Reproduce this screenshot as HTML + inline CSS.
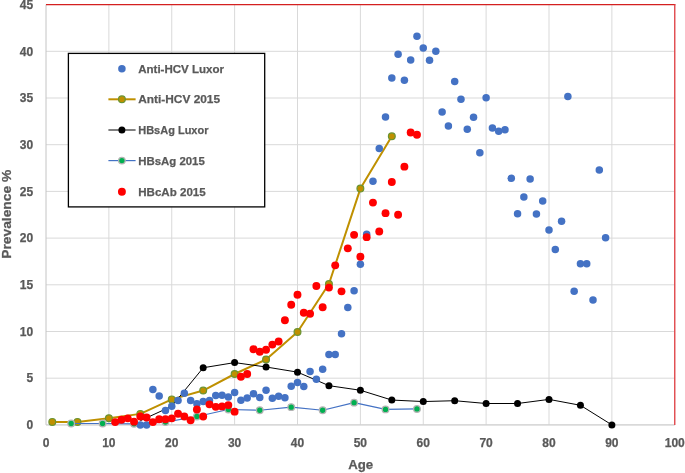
<!DOCTYPE html>
<html><head><meta charset="utf-8"><title>Prevalence by Age</title>
<style>html,body{margin:0;padding:0;background:#fff;}svg{display:block;}text{font-family:"Liberation Sans",sans-serif;font-weight:bold;fill:#595959;}.tk{stroke:#595959;stroke-width:0.25px;}</style></head><body>
<svg width="685" height="473" viewBox="0 0 685 473">
<rect width="685" height="473" fill="#fff"/>
<line x1="46.00" y1="424.90" x2="674.75" y2="424.90" stroke="#d9d9d9" stroke-width="1"/>
<line x1="46.00" y1="378.20" x2="674.75" y2="378.20" stroke="#d9d9d9" stroke-width="1"/>
<line x1="46.00" y1="331.50" x2="674.75" y2="331.50" stroke="#d9d9d9" stroke-width="1"/>
<line x1="46.00" y1="284.80" x2="674.75" y2="284.80" stroke="#d9d9d9" stroke-width="1"/>
<line x1="46.00" y1="238.10" x2="674.75" y2="238.10" stroke="#d9d9d9" stroke-width="1"/>
<line x1="46.00" y1="191.40" x2="674.75" y2="191.40" stroke="#d9d9d9" stroke-width="1"/>
<line x1="46.00" y1="144.70" x2="674.75" y2="144.70" stroke="#d9d9d9" stroke-width="1"/>
<line x1="46.00" y1="98.00" x2="674.75" y2="98.00" stroke="#d9d9d9" stroke-width="1"/>
<line x1="46.00" y1="51.30" x2="674.75" y2="51.30" stroke="#d9d9d9" stroke-width="1"/>
<line x1="108.88" y1="4.60" x2="108.88" y2="424.90" stroke="#d9d9d9" stroke-width="1"/>
<line x1="171.75" y1="4.60" x2="171.75" y2="424.90" stroke="#d9d9d9" stroke-width="1"/>
<line x1="234.62" y1="4.60" x2="234.62" y2="424.90" stroke="#d9d9d9" stroke-width="1"/>
<line x1="297.50" y1="4.60" x2="297.50" y2="424.90" stroke="#d9d9d9" stroke-width="1"/>
<line x1="360.38" y1="4.60" x2="360.38" y2="424.90" stroke="#d9d9d9" stroke-width="1"/>
<line x1="423.25" y1="4.60" x2="423.25" y2="424.90" stroke="#d9d9d9" stroke-width="1"/>
<line x1="486.12" y1="4.60" x2="486.12" y2="424.90" stroke="#d9d9d9" stroke-width="1"/>
<line x1="549.00" y1="4.60" x2="549.00" y2="424.90" stroke="#d9d9d9" stroke-width="1"/>
<line x1="611.88" y1="4.60" x2="611.88" y2="424.90" stroke="#d9d9d9" stroke-width="1"/>
<line x1="46.00" y1="4.60" x2="46.00" y2="424.90" stroke="#c4c4c4" stroke-width="1"/>
<line x1="46.00" y1="424.90" x2="674.75" y2="424.90" stroke="#cfcfcf" stroke-width="1"/>
<line x1="46.00" y1="4.60" x2="675.45" y2="4.60" stroke="#d42020" stroke-width="1.3"/>
<line x1="674.75" y1="4.60" x2="674.75" y2="424.90" stroke="#e0484c" stroke-width="1.4"/>
<text x="33.2" y="429.10" font-size="12" text-anchor="end" class="tk">0</text>
<text x="33.2" y="382.40" font-size="12" text-anchor="end" class="tk">5</text>
<text x="33.2" y="335.70" font-size="12" text-anchor="end" class="tk">10</text>
<text x="33.2" y="289.00" font-size="12" text-anchor="end" class="tk">15</text>
<text x="33.2" y="242.30" font-size="12" text-anchor="end" class="tk">20</text>
<text x="33.2" y="195.60" font-size="12" text-anchor="end" class="tk">25</text>
<text x="33.2" y="148.90" font-size="12" text-anchor="end" class="tk">30</text>
<text x="33.2" y="102.20" font-size="12" text-anchor="end" class="tk">35</text>
<text x="33.2" y="55.50" font-size="12" text-anchor="end" class="tk">40</text>
<text x="33.2" y="8.80" font-size="12" text-anchor="end" class="tk">45</text>
<text x="46.00" y="447.1" font-size="12" text-anchor="middle" class="tk">0</text>
<text x="108.88" y="447.1" font-size="12" text-anchor="middle" class="tk">10</text>
<text x="171.75" y="447.1" font-size="12" text-anchor="middle" class="tk">20</text>
<text x="234.62" y="447.1" font-size="12" text-anchor="middle" class="tk">30</text>
<text x="297.50" y="447.1" font-size="12" text-anchor="middle" class="tk">40</text>
<text x="360.38" y="447.1" font-size="12" text-anchor="middle" class="tk">50</text>
<text x="423.25" y="447.1" font-size="12" text-anchor="middle" class="tk">60</text>
<text x="486.12" y="447.1" font-size="12" text-anchor="middle" class="tk">70</text>
<text x="549.00" y="447.1" font-size="12" text-anchor="middle" class="tk">80</text>
<text x="611.88" y="447.1" font-size="12" text-anchor="middle" class="tk">90</text>
<text x="674.75" y="447.1" font-size="12" text-anchor="middle" class="tk">100</text>
<text x="348.2" y="469.1" font-size="13.2" textLength="25" lengthAdjust="spacingAndGlyphs" class="tk">Age</text>
<text transform="translate(10.9,258.8) rotate(-90)" font-size="13.2" textLength="89" lengthAdjust="spacingAndGlyphs" class="tk">Prevalence %</text>
<polyline points="52.29,421.91 77.44,421.91 108.88,418.18 140.31,413.88 171.75,399.40 203.19,390.53 234.62,374.00 266.06,359.52 297.50,331.97 328.94,284.05 360.38,188.60 391.81,136.29" fill="none" stroke="#bf9000" stroke-width="2" stroke-linejoin="round"/>
<circle cx="52.29" cy="421.91" r="3.4" fill="#bf9000" stroke="#6a9432" stroke-width="1.2"/>
<circle cx="77.44" cy="421.91" r="3.4" fill="#bf9000" stroke="#6a9432" stroke-width="1.2"/>
<circle cx="108.88" cy="418.18" r="3.4" fill="#bf9000" stroke="#6a9432" stroke-width="1.2"/>
<circle cx="140.31" cy="413.88" r="3.4" fill="#bf9000" stroke="#6a9432" stroke-width="1.2"/>
<circle cx="171.75" cy="399.40" r="3.4" fill="#bf9000" stroke="#6a9432" stroke-width="1.2"/>
<circle cx="203.19" cy="390.53" r="3.4" fill="#bf9000" stroke="#6a9432" stroke-width="1.2"/>
<circle cx="234.62" cy="374.00" r="3.4" fill="#bf9000" stroke="#6a9432" stroke-width="1.2"/>
<circle cx="266.06" cy="359.52" r="3.4" fill="#bf9000" stroke="#6a9432" stroke-width="1.2"/>
<circle cx="297.50" cy="331.97" r="3.4" fill="#bf9000" stroke="#6a9432" stroke-width="1.2"/>
<circle cx="328.94" cy="284.05" r="3.4" fill="#bf9000" stroke="#6a9432" stroke-width="1.2"/>
<circle cx="360.38" cy="188.60" r="3.4" fill="#bf9000" stroke="#6a9432" stroke-width="1.2"/>
<circle cx="391.81" cy="136.29" r="3.4" fill="#bf9000" stroke="#6a9432" stroke-width="1.2"/>
<polyline points="140.31,420.70 171.75,406.22 203.19,367.74 234.62,362.60 266.06,366.99 297.50,372.13 328.94,385.67 360.38,390.25 391.81,400.06 423.25,401.55 454.69,400.71 486.12,403.51 517.56,403.51 549.00,399.40 580.44,405.29 611.88,424.90" fill="none" stroke="#000" stroke-width="1.0" stroke-linejoin="round"/>
<circle cx="203.19" cy="367.74" r="3.5" fill="#000"/>
<circle cx="234.62" cy="362.60" r="3.5" fill="#000"/>
<circle cx="266.06" cy="366.99" r="3.5" fill="#000"/>
<circle cx="297.50" cy="372.13" r="3.5" fill="#000"/>
<circle cx="328.94" cy="385.67" r="3.5" fill="#000"/>
<circle cx="360.38" cy="390.25" r="3.5" fill="#000"/>
<circle cx="391.81" cy="400.06" r="3.5" fill="#000"/>
<circle cx="423.25" cy="401.55" r="3.5" fill="#000"/>
<circle cx="454.69" cy="400.71" r="3.5" fill="#000"/>
<circle cx="486.12" cy="403.51" r="3.5" fill="#000"/>
<circle cx="517.56" cy="403.51" r="3.5" fill="#000"/>
<circle cx="549.00" cy="399.40" r="3.5" fill="#000"/>
<circle cx="580.44" cy="405.29" r="3.5" fill="#000"/>
<circle cx="611.88" cy="424.90" r="3.5" fill="#000"/>
<polyline points="71.15,423.50 102.59,423.50 134.02,423.78 165.46,422.10 196.90,416.49 228.34,409.49 259.77,410.24 291.21,407.15 322.65,410.24 354.09,402.67 385.52,409.40 416.96,408.93" fill="none" stroke="#4472c4" stroke-width="1.2" stroke-linejoin="round"/>
<circle cx="71.15" cy="423.50" r="3.3" fill="#00b050" stroke="#b4b4b4" stroke-width="1.3"/>
<circle cx="102.59" cy="423.50" r="3.3" fill="#00b050" stroke="#b4b4b4" stroke-width="1.3"/>
<circle cx="134.02" cy="423.78" r="3.3" fill="#00b050" stroke="#b4b4b4" stroke-width="1.3"/>
<circle cx="165.46" cy="422.10" r="3.3" fill="#00b050" stroke="#b4b4b4" stroke-width="1.3"/>
<circle cx="196.90" cy="416.49" r="3.3" fill="#00b050" stroke="#b4b4b4" stroke-width="1.3"/>
<circle cx="228.34" cy="409.49" r="3.3" fill="#00b050" stroke="#b4b4b4" stroke-width="1.3"/>
<circle cx="259.77" cy="410.24" r="3.3" fill="#00b050" stroke="#b4b4b4" stroke-width="1.3"/>
<circle cx="291.21" cy="407.15" r="3.3" fill="#00b050" stroke="#b4b4b4" stroke-width="1.3"/>
<circle cx="322.65" cy="410.24" r="3.3" fill="#00b050" stroke="#b4b4b4" stroke-width="1.3"/>
<circle cx="354.09" cy="402.67" r="3.3" fill="#00b050" stroke="#b4b4b4" stroke-width="1.3"/>
<circle cx="385.52" cy="409.40" r="3.3" fill="#00b050" stroke="#b4b4b4" stroke-width="1.3"/>
<circle cx="416.96" cy="408.93" r="3.3" fill="#00b050" stroke="#b4b4b4" stroke-width="1.3"/>
<circle cx="140.31" cy="424.90" r="3.75" fill="#4472c4"/>
<circle cx="146.60" cy="424.90" r="3.75" fill="#4472c4"/>
<circle cx="152.89" cy="389.41" r="3.75" fill="#4472c4"/>
<circle cx="159.18" cy="395.95" r="3.75" fill="#4472c4"/>
<circle cx="165.46" cy="410.42" r="3.75" fill="#4472c4"/>
<circle cx="171.75" cy="406.22" r="3.75" fill="#4472c4"/>
<circle cx="178.04" cy="400.62" r="3.75" fill="#4472c4"/>
<circle cx="184.32" cy="393.14" r="3.75" fill="#4472c4"/>
<circle cx="190.61" cy="400.62" r="3.75" fill="#4472c4"/>
<circle cx="196.90" cy="403.70" r="3.75" fill="#4472c4"/>
<circle cx="203.19" cy="401.55" r="3.75" fill="#4472c4"/>
<circle cx="209.47" cy="400.62" r="3.75" fill="#4472c4"/>
<circle cx="215.76" cy="395.48" r="3.75" fill="#4472c4"/>
<circle cx="222.05" cy="395.20" r="3.75" fill="#4472c4"/>
<circle cx="228.34" cy="396.88" r="3.75" fill="#4472c4"/>
<circle cx="234.62" cy="392.40" r="3.75" fill="#4472c4"/>
<circle cx="240.91" cy="400.15" r="3.75" fill="#4472c4"/>
<circle cx="247.20" cy="398.00" r="3.75" fill="#4472c4"/>
<circle cx="253.49" cy="393.80" r="3.75" fill="#4472c4"/>
<circle cx="259.77" cy="397.53" r="3.75" fill="#4472c4"/>
<circle cx="266.06" cy="390.16" r="3.75" fill="#4472c4"/>
<circle cx="272.35" cy="398.19" r="3.75" fill="#4472c4"/>
<circle cx="278.64" cy="396.13" r="3.75" fill="#4472c4"/>
<circle cx="284.92" cy="397.81" r="3.75" fill="#4472c4"/>
<circle cx="291.21" cy="386.14" r="3.75" fill="#4472c4"/>
<circle cx="297.50" cy="382.40" r="3.75" fill="#4472c4"/>
<circle cx="303.79" cy="386.61" r="3.75" fill="#4472c4"/>
<circle cx="310.07" cy="371.38" r="3.75" fill="#4472c4"/>
<circle cx="316.36" cy="379.13" r="3.75" fill="#4472c4"/>
<circle cx="322.65" cy="369.33" r="3.75" fill="#4472c4"/>
<circle cx="328.94" cy="354.38" r="3.75" fill="#4472c4"/>
<circle cx="335.22" cy="354.38" r="3.75" fill="#4472c4"/>
<circle cx="341.51" cy="333.74" r="3.75" fill="#4472c4"/>
<circle cx="347.80" cy="307.50" r="3.75" fill="#4472c4"/>
<circle cx="354.09" cy="290.78" r="3.75" fill="#4472c4"/>
<circle cx="360.38" cy="264.25" r="3.75" fill="#4472c4"/>
<circle cx="366.66" cy="234.36" r="3.75" fill="#4472c4"/>
<circle cx="372.95" cy="181.13" r="3.75" fill="#4472c4"/>
<circle cx="379.24" cy="148.44" r="3.75" fill="#4472c4"/>
<circle cx="385.52" cy="116.96" r="3.75" fill="#4472c4"/>
<circle cx="391.81" cy="78.01" r="3.75" fill="#4472c4"/>
<circle cx="398.10" cy="54.29" r="3.75" fill="#4472c4"/>
<circle cx="404.39" cy="80.25" r="3.75" fill="#4472c4"/>
<circle cx="410.67" cy="60.08" r="3.75" fill="#4472c4"/>
<circle cx="416.96" cy="36.36" r="3.75" fill="#4472c4"/>
<circle cx="423.25" cy="48.03" r="3.75" fill="#4472c4"/>
<circle cx="429.54" cy="60.27" r="3.75" fill="#4472c4"/>
<circle cx="435.82" cy="51.30" r="3.75" fill="#4472c4"/>
<circle cx="442.11" cy="112.01" r="3.75" fill="#4472c4"/>
<circle cx="448.40" cy="126.02" r="3.75" fill="#4472c4"/>
<circle cx="454.69" cy="81.56" r="3.75" fill="#4472c4"/>
<circle cx="460.97" cy="99.21" r="3.75" fill="#4472c4"/>
<circle cx="467.26" cy="129.20" r="3.75" fill="#4472c4"/>
<circle cx="473.55" cy="117.24" r="3.75" fill="#4472c4"/>
<circle cx="479.84" cy="152.73" r="3.75" fill="#4472c4"/>
<circle cx="486.12" cy="97.63" r="3.75" fill="#4472c4"/>
<circle cx="492.41" cy="127.89" r="3.75" fill="#4472c4"/>
<circle cx="498.70" cy="131.16" r="3.75" fill="#4472c4"/>
<circle cx="504.99" cy="129.76" r="3.75" fill="#4472c4"/>
<circle cx="511.27" cy="178.32" r="3.75" fill="#4472c4"/>
<circle cx="517.56" cy="213.82" r="3.75" fill="#4472c4"/>
<circle cx="523.85" cy="197.00" r="3.75" fill="#4472c4"/>
<circle cx="530.14" cy="178.88" r="3.75" fill="#4472c4"/>
<circle cx="536.42" cy="214.10" r="3.75" fill="#4472c4"/>
<circle cx="542.71" cy="200.93" r="3.75" fill="#4472c4"/>
<circle cx="549.00" cy="230.07" r="3.75" fill="#4472c4"/>
<circle cx="555.29" cy="249.59" r="3.75" fill="#4472c4"/>
<circle cx="561.57" cy="221.29" r="3.75" fill="#4472c4"/>
<circle cx="567.86" cy="96.51" r="3.75" fill="#4472c4"/>
<circle cx="574.15" cy="291.34" r="3.75" fill="#4472c4"/>
<circle cx="580.44" cy="263.78" r="3.75" fill="#4472c4"/>
<circle cx="586.73" cy="263.78" r="3.75" fill="#4472c4"/>
<circle cx="593.01" cy="300.02" r="3.75" fill="#4472c4"/>
<circle cx="599.30" cy="169.92" r="3.75" fill="#4472c4"/>
<circle cx="605.59" cy="237.82" r="3.75" fill="#4472c4"/>
<circle cx="115.16" cy="422.10" r="3.95" fill="#ff0000"/>
<circle cx="121.45" cy="419.76" r="3.95" fill="#ff0000"/>
<circle cx="127.74" cy="418.36" r="3.95" fill="#ff0000"/>
<circle cx="134.02" cy="421.63" r="3.95" fill="#ff0000"/>
<circle cx="140.31" cy="416.49" r="3.95" fill="#ff0000"/>
<circle cx="146.60" cy="417.43" r="3.95" fill="#ff0000"/>
<circle cx="152.89" cy="422.10" r="3.95" fill="#ff0000"/>
<circle cx="159.18" cy="419.30" r="3.95" fill="#ff0000"/>
<circle cx="165.46" cy="419.30" r="3.95" fill="#ff0000"/>
<circle cx="171.75" cy="418.36" r="3.95" fill="#ff0000"/>
<circle cx="178.04" cy="413.69" r="3.95" fill="#ff0000"/>
<circle cx="184.32" cy="416.49" r="3.95" fill="#ff0000"/>
<circle cx="190.61" cy="420.23" r="3.95" fill="#ff0000"/>
<circle cx="196.90" cy="409.49" r="3.95" fill="#ff0000"/>
<circle cx="203.19" cy="416.49" r="3.95" fill="#ff0000"/>
<circle cx="209.47" cy="404.35" r="3.95" fill="#ff0000"/>
<circle cx="215.76" cy="406.87" r="3.95" fill="#ff0000"/>
<circle cx="222.05" cy="406.41" r="3.95" fill="#ff0000"/>
<circle cx="228.34" cy="405.10" r="3.95" fill="#ff0000"/>
<circle cx="234.62" cy="411.64" r="3.95" fill="#ff0000"/>
<circle cx="240.91" cy="376.80" r="3.95" fill="#ff0000"/>
<circle cx="247.20" cy="374.00" r="3.95" fill="#ff0000"/>
<circle cx="253.49" cy="349.25" r="3.95" fill="#ff0000"/>
<circle cx="259.77" cy="351.77" r="3.95" fill="#ff0000"/>
<circle cx="266.06" cy="349.71" r="3.95" fill="#ff0000"/>
<circle cx="272.35" cy="344.58" r="3.95" fill="#ff0000"/>
<circle cx="278.64" cy="341.49" r="3.95" fill="#ff0000"/>
<circle cx="284.92" cy="320.29" r="3.95" fill="#ff0000"/>
<circle cx="291.21" cy="304.79" r="3.95" fill="#ff0000"/>
<circle cx="297.50" cy="294.79" r="3.95" fill="#ff0000"/>
<circle cx="303.79" cy="312.82" r="3.95" fill="#ff0000"/>
<circle cx="310.07" cy="313.75" r="3.95" fill="#ff0000"/>
<circle cx="316.36" cy="286.01" r="3.95" fill="#ff0000"/>
<circle cx="322.65" cy="307.22" r="3.95" fill="#ff0000"/>
<circle cx="328.94" cy="287.60" r="3.95" fill="#ff0000"/>
<circle cx="335.22" cy="265.37" r="3.95" fill="#ff0000"/>
<circle cx="341.51" cy="291.34" r="3.95" fill="#ff0000"/>
<circle cx="347.80" cy="248.37" r="3.95" fill="#ff0000"/>
<circle cx="354.09" cy="234.83" r="3.95" fill="#ff0000"/>
<circle cx="360.38" cy="256.78" r="3.95" fill="#ff0000"/>
<circle cx="366.66" cy="237.17" r="3.95" fill="#ff0000"/>
<circle cx="372.95" cy="202.61" r="3.95" fill="#ff0000"/>
<circle cx="379.24" cy="231.56" r="3.95" fill="#ff0000"/>
<circle cx="385.52" cy="213.16" r="3.95" fill="#ff0000"/>
<circle cx="391.81" cy="182.06" r="3.95" fill="#ff0000"/>
<circle cx="398.10" cy="214.75" r="3.95" fill="#ff0000"/>
<circle cx="404.39" cy="166.65" r="3.95" fill="#ff0000"/>
<circle cx="410.67" cy="132.56" r="3.95" fill="#ff0000"/>
<circle cx="416.96" cy="134.71" r="3.95" fill="#ff0000"/>
<rect x="68.4" y="53.4" width="196.3" height="153.5" fill="#fff" stroke="#000" stroke-width="1.3"/>
<circle cx="121.90" cy="68.70" r="3.75" fill="#4472c4"/>
<line x1="108.40" y1="99.30" x2="135.60" y2="99.30" stroke="#bf9000" stroke-width="2"/>
<circle cx="121.90" cy="99.30" r="3.4" fill="#bf9000" stroke="#6a9432" stroke-width="1.2"/>
<line x1="108.40" y1="130.00" x2="135.60" y2="130.00" stroke="#000" stroke-width="1.0"/>
<circle cx="121.90" cy="130.00" r="3.5" fill="#000"/>
<line x1="108.40" y1="160.60" x2="135.60" y2="160.60" stroke="#4472c4" stroke-width="1.2"/>
<circle cx="121.90" cy="160.60" r="3.3" fill="#00b050" stroke="#b4b4b4" stroke-width="1.3"/>
<circle cx="121.90" cy="191.70" r="3.95" fill="#ff0000"/>
<text x="138.2" y="72.70" font-size="11.8" textLength="85.9" lengthAdjust="spacingAndGlyphs" class="tk">Anti-HCV Luxor</text>
<text x="138.2" y="103.30" font-size="11.8" textLength="81.9" lengthAdjust="spacingAndGlyphs" class="tk">Anti-HCV 2015</text>
<text x="138.2" y="134.00" font-size="11.8" textLength="70.3" lengthAdjust="spacingAndGlyphs" class="tk">HBsAg Luxor</text>
<text x="138.2" y="164.60" font-size="11.8" textLength="66.6" lengthAdjust="spacingAndGlyphs" class="tk">HBsAg 2015</text>
<text x="138.2" y="195.70" font-size="11.8" textLength="67.5" lengthAdjust="spacingAndGlyphs" class="tk">HBcAb 2015</text>
</svg></body></html>
